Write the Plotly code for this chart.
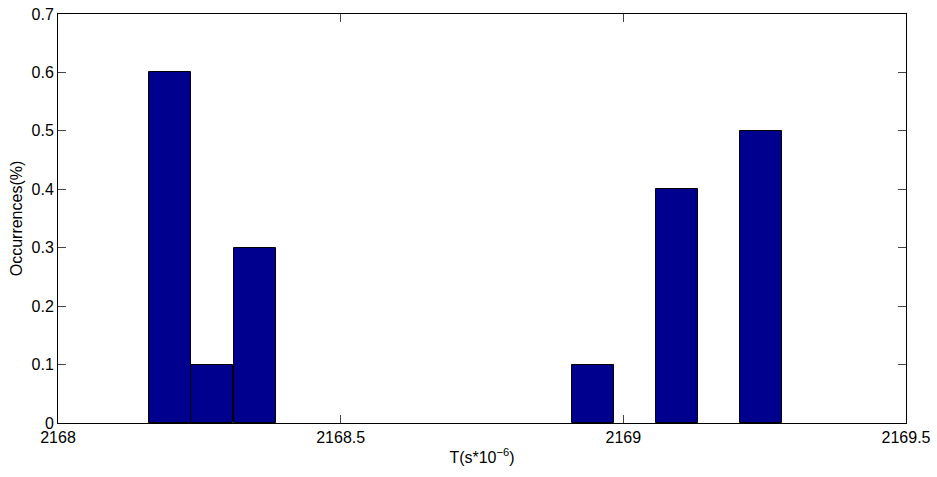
import plotly.graph_objects as go

# Histogram of period measurements: bin centres and relative occurrences
bin_centers = [2168.198, 2168.273, 2168.348, 2168.946, 2169.095, 2169.244]
occurrences = [0.6, 0.1, 0.3, 0.1, 0.4, 0.5]
bin_width = 0.0747

x_ticks = [2168, 2168.5, 2169, 2169.5]
x_tick_labels = ["2168", "2168.5", "2169", "2169.5"]
y_ticks = [0, 0.1, 0.2, 0.3, 0.4, 0.5, 0.6, 0.7]
y_tick_labels = ["0", "0.1", "0.2", "0.3", "0.4", "0.5", "0.6", "0.7"]

fig = go.Figure(
    go.Bar(
        x=bin_centers,
        y=occurrences,
        width=[bin_width] * len(bin_centers),
        marker=dict(color="#00008F", line=dict(color="#000000", width=1)),
    )
)

font = dict(family="Liberation Sans, Arial, sans-serif", size=16, color="#000000")

fig.update_layout(
    width=937,
    height=477,
    margin=dict(l=58, r=31, t=14, b=54),
    paper_bgcolor="white",
    plot_bgcolor="white",
    font=font,
    showlegend=False,
    bargap=0,
)

axis_common = dict(
    showline=True,
    linecolor="#000000",
    linewidth=1,
    mirror="ticks",
    ticks="inside",
    ticklen=8,
    tickcolor="#444444",
    showgrid=False,
    zeroline=False,
    automargin=False,
    tickfont=font,
)

fig.update_xaxes(
    range=[2168, 2169.5],
    tickvals=x_ticks,
    ticktext=x_tick_labels,
    ticklabelstandoff=0,
    title=dict(text="T(s*10<sup>−6</sup>)", font=font, standoff=6),
    **axis_common,
)
fig.update_yaxes(
    range=[0, 0.7],
    tickvals=y_ticks,
    ticktext=y_tick_labels,
    ticklabelstandoff=0,
    title=dict(text="Occurrences(%)", font=font, standoff=4),
    **axis_common,
)

fig.write_html("out.html")
